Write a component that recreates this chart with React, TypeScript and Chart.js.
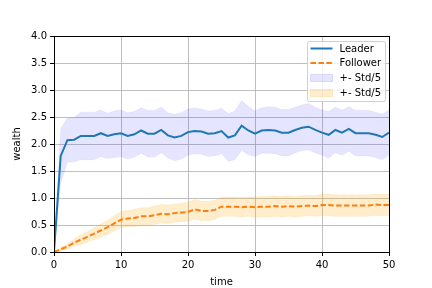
import React, { useEffect, useRef } from 'react';
import { Chart, registerables } from 'chart.js';

Chart.register(...registerables);

const timeSteps = [0,1,2,3,4,5,6,7,8,9,10,11,12,13,14,15,16,17,18,19,20,21,22,23,24,25,26,27,28,29,30,31,32,33,34,35,36,37,38,39,40,41,42,43,44,45,46,47,48,49,50];

const leaderMean = [0,1.78,2.07,2.08,2.15,2.15,2.15,2.20,2.15,2.18,2.20,2.15,2.18,2.25,2.19,2.19,2.26,2.16,2.12,2.15,2.22,2.24,2.23,2.19,2.20,2.24,2.12,2.16,2.34,2.25,2.19,2.25,2.26,2.25,2.21,2.21,2.26,2.30,2.32,2.26,2.21,2.17,2.26,2.21,2.28,2.20,2.20,2.20,2.17,2.13,2.21];

const leaderStd5 = [0,0.50,0.41,0.41,0.44,0.44,0.44,0.43,0.42,0.43,0.43,0.43,0.42,0.42,0.43,0.43,0.42,0.42,0.43,0.43,0.43,0.42,0.42,0.42,0.42,0.42,0.44,0.45,0.46,0.45,0.42,0.42,0.43,0.43,0.43,0.43,0.42,0.42,0.43,0.42,0.42,0.43,0.42,0.42,0.41,0.42,0.42,0.42,0.42,0.42,0.42];

const followerMean = [0,0.05,0.10,0.17,0.23,0.28,0.34,0.40,0.46,0.53,0.60,0.62,0.63,0.66,0.66,0.68,0.71,0.70,0.72,0.73,0.74,0.79,0.76,0.76,0.78,0.84,0.84,0.84,0.83,0.84,0.83,0.84,0.84,0.85,0.84,0.85,0.84,0.85,0.86,0.85,0.87,0.87,0.86,0.86,0.86,0.86,0.86,0.86,0.88,0.87,0.87];

const followerStd5 = [0,0.03,0.05,0.07,0.09,0.10,0.11,0.12,0.13,0.14,0.15,0.15,0.16,0.16,0.16,0.17,0.17,0.17,0.17,0.17,0.18,0.18,0.18,0.18,0.18,0.18,0.18,0.18,0.18,0.18,0.19,0.19,0.19,0.19,0.19,0.19,0.19,0.19,0.19,0.19,0.20,0.20,0.20,0.20,0.20,0.20,0.20,0.20,0.20,0.20,0.20];

const yTicks = [0, 0.5, 1, 1.5, 2, 2.5, 3, 3.5, 4];
const xTicks = [0, 10, 20, 30, 40, 50];

const legendLabels = ['Leader', 'Follower', '+- Std/5', '+- Std/5'];

const FONT = 'DejaVu Sans';
const BLUE = '#1f77b4';
const ORANGE = '#ff7f0e';
const BLUE_BAND = 'rgba(0,0,255,0.1)';
const ORANGE_BAND = 'rgba(255,165,0,0.2)';

const pts = (ys: number[]) => timeSteps.map((t, i) => ({ x: t, y: ys[i] }));

const framePlugin = {
  id: 'frame',
  afterDatasetsDraw(chart: any) {
    const { ctx, chartArea: a } = chart;
    ctx.save();
    ctx.strokeStyle = '#000';
    ctx.lineWidth = 1;
    ctx.strokeRect(Math.round(a.left) + 0.5, Math.round(a.top) + 0.5, Math.round(a.right - a.left), Math.round(a.bottom - a.top));
    ctx.restore();
  },
};

const legendPlugin = {
  id: 'mplLegend',
  afterDraw(chart: any) {
    const { ctx, chartArea: a } = chart;
    const w = 78, h = 60;
    const x0 = a.right - 4 - w + 0.5;
    const y0 = a.top + 5.5;
    ctx.save();
    ctx.beginPath();
    const r = 2;
    ctx.moveTo(x0 + r, y0);
    ctx.lineTo(x0 + w - r, y0);
    ctx.quadraticCurveTo(x0 + w, y0, x0 + w, y0 + r);
    ctx.lineTo(x0 + w, y0 + h - r);
    ctx.quadraticCurveTo(x0 + w, y0 + h, x0 + w - r, y0 + h);
    ctx.lineTo(x0 + r, y0 + h);
    ctx.quadraticCurveTo(x0, y0 + h, x0, y0 + h - r);
    ctx.lineTo(x0, y0 + r);
    ctx.quadraticCurveTo(x0, y0, x0 + r, y0);
    ctx.closePath();
    ctx.fillStyle = 'rgba(255,255,255,0.8)';
    ctx.fill();
    ctx.strokeStyle = '#d0d0d0';
    ctx.lineWidth = 1;
    ctx.stroke();

    const sx0 = x0 + 3, sx1 = x0 + 25, tx = x0 + 32;
    const rows = [y0 + 7, y0 + 21.5, y0 + 36.5, y0 + 51.5];
    ctx.font = `10px "${FONT}"`;
    ctx.textBaseline = 'middle';
    ctx.fillStyle = '#000';
    // Leader
    ctx.strokeStyle = BLUE;
    ctx.lineWidth = 2;
    ctx.setLineDash([]);
    ctx.beginPath();
    ctx.moveTo(sx0, rows[0]);
    ctx.lineTo(sx1, rows[0]);
    ctx.stroke();
    // Follower
    ctx.strokeStyle = ORANGE;
    ctx.setLineDash([5.5, 2.4]);
    ctx.beginPath();
    ctx.moveTo(sx0, rows[1]);
    ctx.lineTo(sx1, rows[1]);
    ctx.stroke();
    ctx.setLineDash([]);
    // patches
    ctx.lineWidth = 1;
    ctx.fillStyle = BLUE_BAND;
    ctx.fillRect(sx0, rows[2] - 3.5, sx1 - sx0, 7);
    ctx.strokeStyle = BLUE_BAND;
    ctx.strokeRect(sx0, rows[2] - 3.5, sx1 - sx0, 7);
    ctx.fillStyle = ORANGE_BAND;
    ctx.fillRect(sx0, rows[3] - 3.5, sx1 - sx0, 7);
    ctx.strokeStyle = ORANGE_BAND;
    ctx.strokeRect(sx0, rows[3] - 3.5, sx1 - sx0, 7);

    ctx.fillStyle = '#000';
    legendLabels.forEach((lab, i) => ctx.fillText(lab, tx, rows[i] + 0.5));
    ctx.restore();
  },
};

export default function App() {
  const ref = useRef<HTMLCanvasElement>(null);
  useEffect(() => {
    if (!ref.current) return;
    const band = (ys: number[]) => ys;
    const chart = new Chart(ref.current, {
      type: 'line',
      data: {
        datasets: [
          {
            label: 'Leader',
            data: pts(leaderMean),
            borderColor: BLUE,
            borderWidth: 2,
            pointRadius: 0,
            fill: false,
            tension: 0,
            order: 0,
          },
          {
            label: 'Follower',
            data: pts(followerMean),
            borderColor: ORANGE,
            borderWidth: 2,
            borderDash: [5.5, 2.4],
            pointRadius: 0,
            fill: false,
            tension: 0,
            order: 0,
          },
          {
            label: 'leaderUpper',
            data: pts(band(leaderMean.map((m, i) => m + leaderStd5[i]))),
            borderColor: BLUE_BAND,
            borderWidth: 0.5,
            backgroundColor: BLUE_BAND,
            pointRadius: 0,
            fill: '+1',
            order: 2,
          },
          {
            label: 'leaderLower',
            data: pts(band(leaderMean.map((m, i) => m - leaderStd5[i]))),
            borderColor: BLUE_BAND,
            borderWidth: 0.5,
            pointRadius: 0,
            fill: false,
            order: 2,
          },
          {
            label: 'followerUpper',
            data: pts(band(followerMean.map((m, i) => m + followerStd5[i]))),
            borderColor: ORANGE_BAND,
            borderWidth: 0.5,
            backgroundColor: ORANGE_BAND,
            pointRadius: 0,
            fill: '+1',
            order: 2,
          },
          {
            label: 'followerLower',
            data: pts(band(followerMean.map((m, i) => m - followerStd5[i]))),
            borderColor: ORANGE_BAND,
            borderWidth: 0.5,
            pointRadius: 0,
            fill: false,
            order: 2,
          },
        ],
      },
      options: {
        animation: false,
        responsive: false,
        maintainAspectRatio: false,
        layout: { padding: { left: 0, right: 43, top: 36, bottom: 0 } },
        plugins: {
          legend: { display: false },
          tooltip: { enabled: false },
        },
        scales: {
          x: {
            type: 'linear',
            min: 0,
            max: 50,
            afterFit: (s: any) => { s.height = 36; },
            afterBuildTicks: (s: any) => { s.ticks = xTicks.map((v) => ({ value: v })); },
            ticks: {
              font: { family: FONT, size: 10 },
              color: '#000',
              padding: 3,
              maxRotation: 0,
              callback: (v: any) => String(v),
            },
            grid: {
              color: '#b0b0b0',
              lineWidth: 0.8,
              tickColor: '#000',
              tickLength: 4,
              tickWidth: 1,
            },
            border: { display: true, color: '#000', width: 1 },
            title: {
              display: true,
              text: 'time',
              font: { family: FONT, size: 10 },
              color: '#000',
              padding: { top: 0, bottom: 0 },
            },
          },
          y: {
            type: 'linear',
            min: 0,
            max: 4,
            afterFit: (s: any) => { s.width = 54; },
            afterBuildTicks: (s: any) => { s.ticks = yTicks.map((v) => ({ value: v })); },
            ticks: {
              font: { family: FONT, size: 10 },
              color: '#000',
              padding: 3,
              callback: (v: any) => Number(v).toFixed(1),
            },
            grid: {
              color: '#b0b0b0',
              lineWidth: 0.8,
              tickColor: '#000',
              tickLength: 4,
              tickWidth: 1,
            },
            border: { display: true, color: '#000', width: 1 },
            title: {
              display: true,
              text: 'wealth',
              font: { family: FONT, size: 10 },
              color: '#000',
              padding: { top: 11, bottom: 0 },
            },
          },
        },
      },
      plugins: [framePlugin, legendPlugin],
    } as any);
    return () => chart.destroy();
  }, []);
  return (
    <div style={{ position: 'fixed', left: 0, top: 0, width: 432, height: 288, background: '#fff' }}>
      <canvas ref={ref} width={432} height={288} style={{ display: 'block', width: 432, height: 288 }} />
    </div>
  );
}
